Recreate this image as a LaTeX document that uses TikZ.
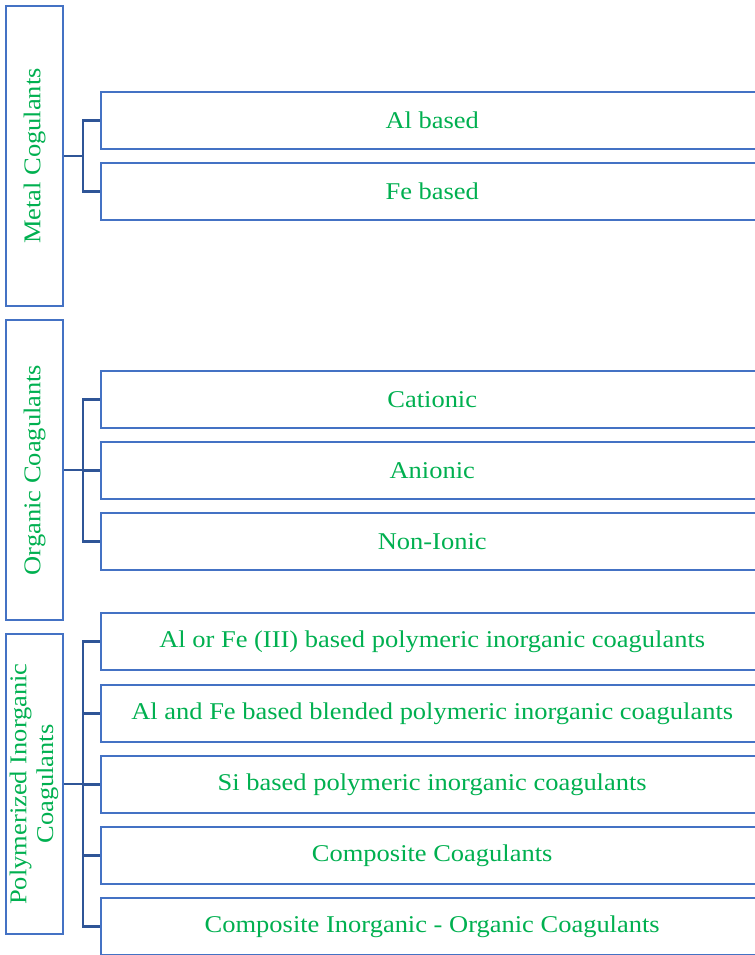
\documentclass[tikz,border=0pt]{standalone}
\usepackage{fontspec}
\setmainfont{Liberation Serif}[FakeStretch=1.1]
\usetikzlibrary{positioning,calc}
\definecolor{boxBlue}{HTML}{4472C4}
\definecolor{linkBlue}{HTML}{2F5597}
\definecolor{textGreen}{HTML}{00B050}
\tikzset{
    catbox/.style={draw=boxBlue,fill=white,line width=1.4pt,
        minimum width=1.14cm,minimum height=6cm,inner sep=0pt,
        text=textGreen,align=center,font=\fontsize{13.7}{15.2}\selectfont},
    itembox/.style={draw=boxBlue,fill=white,line width=1.4pt,anchor=west,
        minimum width=13.24cm,minimum height=1.14cm,inner sep=0pt,
        text=textGreen,align=center,font=\fontsize{13.7}{15.2}\selectfont},
    link/.style={draw=linkBlue,line width=1.4pt}
}
\begin{document}
\begin{tikzpicture}
    \useasboundingbox (0,0) rectangle (15.1,-19.1);
    \clip (0,0) rectangle (15.1,-19.1);

    % categories
    \node[catbox] (metal) at (0.69,-3.12) {\rotatebox{90}{Metal Cogulants}};
    \node[catbox] (organic) at (0.69,-9.40) {\rotatebox{90}{Organic Coagulants}};
    \node[catbox] (polymer) at (0.69,-15.68)
        {\rotatebox{90}{\begin{tabular}{@{}c@{}}Polymerized Inorganic\\Coagulants\end{tabular}}};

    % items
    \node[itembox] (al) at (2.0,-2.41) {Al based};
    \node[itembox] (fe) at (2.0,-3.83) {Fe based};

    \node[itembox] (cationic) at (2.0,-7.99) {Cationic};
    \node[itembox] (anionic) at (2.0,-9.41) {Anionic};
    \node[itembox] (nonionic) at (2.0,-10.83) {Non-Ionic};

    \node[itembox] (alfe) at (2.0,-12.83) {Al or Fe (III) based polymeric inorganic coagulants};
    \node[itembox] (blended) at (2.0,-14.27) {Al and Fe based blended polymeric inorganic coagulants};
    \node[itembox] (si) at (2.0,-15.69) {Si based polymeric inorganic coagulants};
    \node[itembox] (composite) at (2.0,-17.11) {Composite Coagulants};
    \node[itembox] (hybrid) at (2.0,-18.53) {Composite Inorganic - Organic Coagulants};

    % brackets
    \draw[link] (metal.east) -- ++(0.38,0) coordinate (metalJoint);
    \foreach \c in {al,fe}
        \draw[link] (metalJoint) |- (\c.west);
    \draw[link] (organic.east) -- ++(0.38,0) coordinate (organicJoint);
    \foreach \c in {cationic,anionic,nonionic}
        \draw[link] (organicJoint) |- (\c.west);
    \draw[link] (polymer.east) -- ++(0.38,0) coordinate (polymerJoint);
    \foreach \c in {alfe,blended,si,composite,hybrid}
        \draw[link] (polymerJoint) |- (\c.west);
\end{tikzpicture}
\end{document}
